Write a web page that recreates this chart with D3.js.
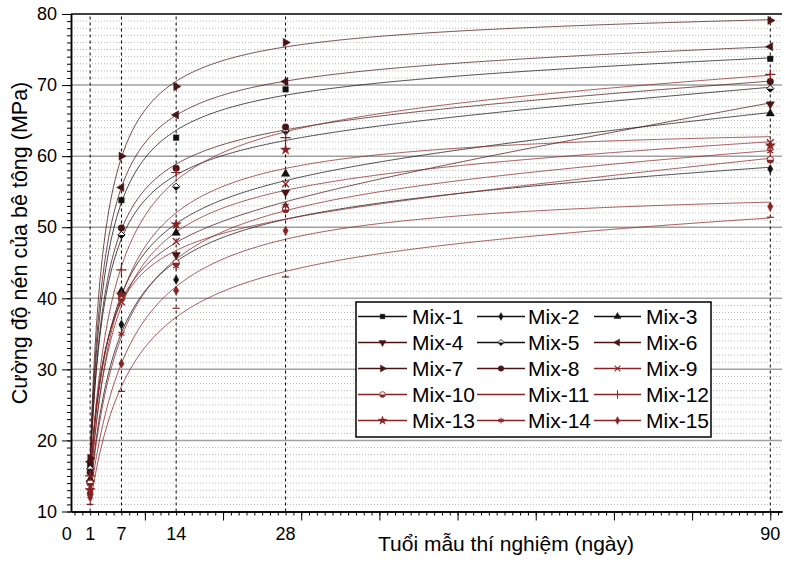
<!DOCTYPE html>
<html>
<head>
<meta charset="utf-8">
<script src="https://cdn.jsdelivr.net/npm/d3@7"></script>
<style>
  body { margin: 0; background: #fff; }
  text { font-family: "Liberation Sans", Arial, sans-serif; fill: #000; }
</style>
</head>
<body>
<script>
// ---------------- DATA ----------------
const days = [3, 7, 14, 28, 90];
const xTickDays = [0, 3, 7, 14, 28, 90];
const xTickLabels = ["0", "1", "7", "14", "28", "90"];
const yTicks = [10, 20, 30, 40, 50, 60, 70, 80];
const mixNames = ["Mix-1","Mix-2","Mix-3","Mix-4","Mix-5","Mix-6","Mix-7","Mix-8",
                  "Mix-9","Mix-10","Mix-11","Mix-12","Mix-13","Mix-14","Mix-15"];
const mix1  = [16.5, 53.8, 62.6, 69.4, 73.7];
const mix2  = [12.5, 36.3, 42.6, 52.9, 58.2];
const mix3  = [14.5, 41.0, 49.2, 57.5, 66.0];
const mix4  = [14.0, 40.3, 46.1, 54.9, 67.3];
const mix5  = [16.0, 48.9, 55.7, 63.5, 69.5];
const mix6  = [17.0, 55.6, 65.8, 70.5, 75.4];
const mix7  = [17.5, 60.0, 69.8, 76.0, 79.1];
const mix8  = [15.5, 49.9, 58.3, 64.1, 70.5];
const mix9  = [13.5, 39.5, 48.0, 56.1, 61.9];
const mix10 = [14.0, 40.0, 45.0, 52.5, 59.5];
const mix11 = [11.0, 26.9, 38.6, 43.0, 51.4];
const mix12 = [15.0, 44.0, 57.7, 62.6, 71.5];
const mix13 = [13.0, 40.5, 50.4, 60.9, 61.5];
const mix14 = [12.5, 35.0, 44.5, 53.0, 60.7];
const mix15 = [12.0, 30.8, 41.1, 49.5, 52.9];
const seriesValues = [mix1, mix2, mix3, mix4, mix5, mix6, mix7, mix8,
                      mix9, mix10, mix11, mix12, mix13, mix14, mix15];

// ---------------- STYLE ----------------
const W = 785, H = 565;
const black = "#111111", maroon = "#4a1414", red = "#8b2222";
const colors = [black, black, black, maroon, black, maroon, maroon, maroon,
                red, red, red, red, red, red, red];
const markerKinds = ["square","diamond","triUp","triDown","halfDiamond","triLeft","triRight","circle",
                     "times","halfCircle","dash","plus","star","asterisk","diamondSmall"];

const svg = d3.select("body").append("svg").attr("width", W).attr("height", H);

const x = d3.scaleLinear().domain([0.55, 91.5]).range([71, 782]);
const y = d3.scaleLinear().domain([10, 80]).range([511.5, 14]);
const [x0, x1] = x.range();
const [yb, yt] = y.range();

// ---------------- GRID ----------------
const grid = svg.append("g");
grid.selectAll(".minor").data(d3.range(11, 80).filter(v => v % 10 !== 0)).join("line")
  .attr("x1", x0).attr("x2", x1).attr("y1", d => y(d)).attr("y2", d => y(d))
  .attr("stroke", "#b8b8b8").attr("stroke-width", 1).attr("stroke-dasharray", "1,2");
grid.selectAll(".major").data(yTicks.filter(v => v > 10 && v < 80)).join("line")
  .attr("x1", x0).attr("x2", x1).attr("y1", d => y(d)).attr("y2", d => y(d))
  .attr("stroke", "#a0a0a0").attr("stroke-width", 1.5);
grid.selectAll(".vdash").data(days).join("line")
  .attr("x1", d => x(d)).attr("x2", d => x(d)).attr("y1", yb).attr("y2", yt)
  .attr("stroke", "#000").attr("stroke-width", 1).attr("stroke-dasharray", "3,3");
svg.append("line").attr("x1", x0).attr("x2", x1).attr("y1", y(80)).attr("y2", y(80))
  .attr("stroke", "#000").attr("stroke-width", 1.5);

// ---------------- FIT ----------------
function solve(M, v) {
  const n = v.length;
  const A = M.map((r, i) => [...r, v[i]]);
  for (let c = 0; c < n; c++) {
    let p = c;
    for (let r = c + 1; r < n; r++) if (Math.abs(A[r][c]) > Math.abs(A[p][c])) p = r;
    if (Math.abs(A[p][c]) < 1e-12) return null;
    [A[c], A[p]] = [A[p], A[c]];
    for (let r = 0; r < n; r++) {
      if (r === c) continue;
      const f = A[r][c] / A[c][c];
      for (let k = c; k <= n; k++) A[r][k] -= f * A[c][k];
    }
  }
  return A.map((r, i) => r[n] / r[i]);
}
function lsq(cols, ys) {
  const k = cols.length;
  const M = d3.range(k).map(i => d3.range(k).map(j => d3.sum(ys, (_, t) => cols[i][t] * cols[j][t])));
  const v = d3.range(k).map(i => d3.sum(ys, (yy, t) => cols[i][t] * yy));
  return solve(M, v);
}
function fitSeries(vals) {
  const s = days.map(d => d - days[0]);
  let best = null;
  for (let B = 0.3; B <= 40; B += 0.05) {
    const cols = [s.map(() => 1), s.map(v => v / (B + v)), s.map(v => v)];
    let coef = lsq(cols, vals);
    if (!coef) continue;
    if (coef[2] < 0) {
      const c2 = lsq(cols.slice(0, 2), vals);
      if (!c2) continue;
      coef = [c2[0], c2[1], 0];
    }
    if (coef[1] < 0) continue;
    const f = t => { const u = t - days[0]; return coef[0] + coef[1] * u / (B + u) + coef[2] * u; };
    const sse = d3.sum(days, (d, i) => (f(d) - vals[i]) ** 2);
    if (!best || sse < best.sse) best = { sse, f };
  }
  return best.f;
}

// ---------------- CURVES ----------------
const line = d3.line().x(d => x(d[0])).y(d => y(d[1]));
const tSamples = d3.range(days[0], days[days.length - 1] + 0.001, 0.2);
const curves = svg.append("g");
seriesValues.forEach((vals, i) => {
  const f = fitSeries(vals);
  curves.append("path")
    .attr("d", line(tSamples.map(t => [t, f(t)])))
    .attr("fill", "none").attr("stroke", colors[i]).attr("stroke-width", 0.9).attr("opacity", 0.85);
});

// ---------------- MARKERS ----------------
function drawMarker(g, kind, color, cx, cy, scale = 1) {
  const gg = g.append("g").attr("transform", `translate(${cx},${cy}) scale(${scale})`);
  const sym = (type, size, rot = 0, stroke = false) => gg.append("path")
    .attr("d", d3.symbol().type(type).size(size)())
    .attr("transform", `rotate(${rot})`)
    .attr("fill", stroke ? "none" : color)
    .attr("stroke", color).attr("stroke-width", stroke ? 1.2 : 0.5);
  switch (kind) {
    case "square": sym(d3.symbolSquare, 30); break;
    case "diamond": sym(d3.symbolDiamond, 24); break;
    case "diamondSmall": sym(d3.symbolDiamond, 24); break;
    case "triUp": sym(d3.symbolTriangle, 30); break;
    case "triDown": sym(d3.symbolTriangle, 30, 180); break;
    case "triLeft": sym(d3.symbolTriangle, 30, -90); break;
    case "triRight": sym(d3.symbolTriangle, 30, 90); break;
    case "circle": sym(d3.symbolCircle, 34); break;
    case "star": sym(d3.symbolStar, 32); break;
    case "times": sym(d3.symbolTimes, 32, 0, true); break;
    case "plus": sym(d3.symbolPlus, 36, 0, true); break;
    case "asterisk": sym(d3.symbolAsterisk, 34, 0, true); break;
    case "dash":
      gg.append("path").attr("d", "M-3.5,0H3.5").attr("stroke", color).attr("stroke-width", 1.2);
      break;
    case "halfDiamond":
      gg.append("path").attr("d", "M0,-3.6L3.6,0L0,3.6L-3.6,0Z").attr("fill", "#fff").attr("stroke", color).attr("stroke-width", 1);
      gg.append("path").attr("d", "M-3.6,0L3.6,0L0,3.6Z").attr("fill", color);
      break;
    case "halfCircle":
      gg.append("circle").attr("r", 3.3).attr("fill", "#fff").attr("stroke", color).attr("stroke-width", 1);
      gg.append("path").attr("d", "M-3.3,0A3.3,3.3 0 0 0 3.3,0Z").attr("fill", color);
      break;
  }
}
const marks = svg.append("g");
seriesValues.forEach((vals, i) => {
  vals.forEach((v, j) => drawMarker(marks, markerKinds[i], colors[i], x(days[j]), y(v)));
});

// ---------------- AXES ----------------
const axisStyle = g => {
  g.select(".domain").attr("stroke", "#000").attr("stroke-width", 1.5);
  g.selectAll(".tick line").attr("stroke", "#000").attr("stroke-width", 1);
};
svg.append("g").attr("transform", `translate(${x0},0)`)
  .call(d3.axisLeft(y).tickValues(d3.range(10, 81)).tickSize(4).tickSizeOuter(0).tickFormat(""))
  .call(axisStyle);
svg.append("g").attr("transform", `translate(${x0},0)`)
  .call(d3.axisLeft(y).tickValues(yTicks).tickSize(9).tickSizeOuter(0).tickPadding(5))
  .call(axisStyle)
  .call(g => g.selectAll(".tick text").attr("font-size", 18).attr("font-family", '"Liberation Sans", Arial, sans-serif').attr("fill", "#000"));
svg.append("g").attr("transform", `translate(0,${yb})`)
  .call(d3.axisBottom(x).tickValues(d3.range(1, 92)).tickSize(4).tickSizeOuter(0).tickFormat(""))
  .call(axisStyle);
svg.append("g").attr("transform", `translate(0,${yb})`)
  .call(d3.axisBottom(x).tickValues(d3.range(10, 91, 10)).tickSize(9).tickSizeOuter(0).tickFormat(""))
  .call(axisStyle);
svg.append("g").selectAll("text").data(xTickDays).join("text")
  .attr("x", d => x(d)).attr("y", 540).attr("text-anchor", "middle").attr("font-size", 18)
  .text((d, i) => xTickLabels[i]);

// titles
svg.append("text").attr("x", 506).attr("y", 551).attr("text-anchor", "middle").attr("font-size", 21)
  .text("Tuổi mẫu thí nghiệm (ngày)");
svg.append("text").attr("transform", "translate(27,243) rotate(-90)").attr("text-anchor", "middle").attr("font-size", 21.5)
  .text("Cường độ nén của bê tông (MPa)");

// ---------------- LEGEND ----------------
const leg = svg.append("g");
leg.append("rect").attr("x", 356).attr("y", 302).attr("width", 355).attr("height", 135)
  .attr("fill", "#fff").attr("stroke", "#000").attr("stroke-width", 1.5);
const colLine = [[358, 407], [477, 525], [594, 641]];
const colText = [412, 528, 646];
mixNames.forEach((name, i) => {
  const r = Math.floor(i / 3), c = i % 3;
  const cy = 316.5 + 26 * r;
  leg.append("line").attr("x1", colLine[c][0]).attr("x2", colLine[c][1]).attr("y1", cy).attr("y2", cy)
    .attr("stroke", colors[i]).attr("stroke-width", 1.3);
  drawMarker(leg, markerKinds[i], colors[i], (colLine[c][0] + colLine[c][1]) / 2, cy, 0.85);
  leg.append("text").attr("x", colText[c]).attr("y", cy).attr("dy", "0.36em").attr("font-size", 21)
    .text(name);
});
</script>
</body>
</html>
